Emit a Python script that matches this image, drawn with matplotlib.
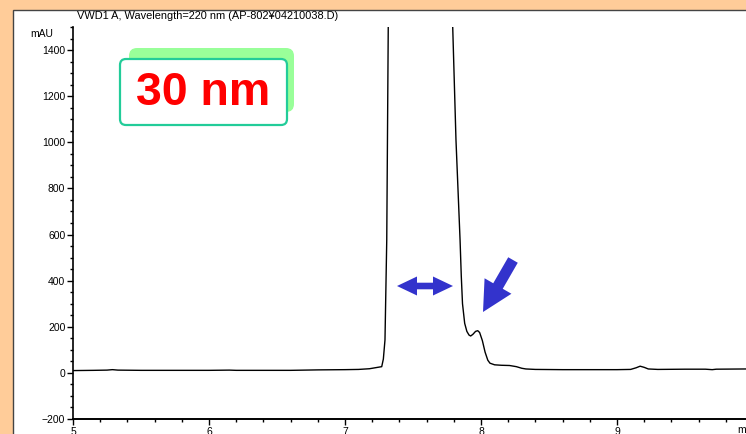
import matplotlib
matplotlib.use("Agg")
import matplotlib.pyplot as plt
from matplotlib.patches import Rectangle, FancyBboxPatch, FancyArrow, Polygon
from matplotlib.ticker import MultipleLocator

# VWD1 A trace, 220 nm (time in min, absorbance in mAU)
time_min = [5.00, 5.15, 5.25, 5.29, 5.33, 5.50, 6.00, 6.15, 6.20, 6.60, 6.80,
            7.00, 7.10, 7.18, 7.22, 7.25, 7.270, 7.282, 7.294, 7.307, 7.318,
            7.33, 7.40, 7.50, 7.60, 7.70, 7.76, 7.792, 7.816, 7.846, 7.855,
            7.864, 7.880, 7.896, 7.912, 7.924, 7.940, 7.960, 7.976, 7.990,
            8.010, 8.030, 8.050, 8.066, 8.10, 8.15, 8.21, 8.26, 8.30, 8.33,
            8.40, 8.60, 8.80, 9.00, 9.10, 9.14, 9.17, 9.20, 9.23, 9.30, 9.50,
            9.65, 9.70, 9.73, 9.95]
mau = [10, 11, 12, 14, 12, 11, 11, 12, 11, 11, 13,
       14, 15, 18, 22, 25, 27, 60, 143, 577, 1500,
       2400, 3300, 3600, 3300, 2500, 1900, 1500, 1010, 577, 420,
       300, 215, 180, 164, 160, 167, 180, 183, 175,
       140, 90, 55, 42, 35, 33, 32, 27, 20, 17,
       15, 14, 14, 14, 15, 22, 29, 24, 17, 15, 16,
       16, 14, 16, 17]

x_ticks = [5, 6, 7, 8, 9]
y_ticks = [-200, 0, 200, 400, 600, 800, 1000, 1200, 1400]
title = "VWD1 A, Wavelength=220 nm (AP-802¥04210038.D)"
badge = "30 nm"

W, H = 746, 434
PEACH = "#FFCC99"
BLUE = "#3333CC"

plt.rcParams["font.family"] = ["Liberation Sans", "DejaVu Sans"]

fig = plt.figure(figsize=(W / 100, H / 100), dpi=100, facecolor=PEACH)

# white report panel, kept behind everything
fig.patches.append(Rectangle((13 / W, -0.1), 1.2, 1 - 10 / H + 0.1,
                             transform=fig.transFigure, facecolor="white",
                             edgecolor="#444444", linewidth=1.0, zorder=-5))

ax = fig.add_axes([73 / W, 15 / H, (W - 73) / W, (419 - 27) / H])
ax.set_facecolor("none")
ax.plot(time_min, mau, color="black", linewidth=1.0, clip_on=True)
ax.set_xlim(5, 5 + (W - 73) / 136)
ax.set_ylim(-200, 1500)

for s in ("top", "right"):
    ax.spines[s].set_visible(False)
ax.spines["left"].set_linewidth(1.2)
ax.spines["bottom"].set_linewidth(1.4)

ax.set_xticks(x_ticks)
ax.set_yticks(y_ticks)
ax.xaxis.set_minor_locator(MultipleLocator(0.2))
ax.yaxis.set_minor_locator(MultipleLocator(50))
ax.tick_params(axis="both", which="major", direction="out", length=4.5,
               width=1.0, labelsize=7.5, pad=1)
ax.tick_params(axis="both", which="minor", direction="out", length=2.5,
               width=1.0)

ax.annotate("min", xy=(9.882, -200), xytext=(0, -4.3),
            textcoords="offset points", ha="left", va="top", fontsize=7.5,
            annotation_clip=False)

fig.text(53 / W, 1 - 34 / H, "mAU", ha="right", va="center", fontsize=7.5)
fig.text(208 / W, 1 - 16 / H, title, ha="center", va="center", fontsize=7.9)

# overlay in pixel units for the callouts
ov = fig.add_axes([0, 0, 1, 1])
ov.set_xlim(0, W)
ov.set_ylim(H, 0)
ov.axis("off")
ov.set_facecolor("none")

ov.add_patch(FancyBboxPatch((129, 48), 165, 64,
                            boxstyle="round,pad=0,rounding_size=8",
                            facecolor="#99FF99", edgecolor="none"))
ov.add_patch(FancyBboxPatch((120, 59), 167, 66,
                            boxstyle="round,pad=0,rounding_size=6",
                            facecolor="white", edgecolor="#22CC99",
                            linewidth=1.6))
ov.text(203, 93, badge, ha="center", va="center", color="#FF0000",
        fontsize=33.5, fontweight="bold")

# double-headed arrow across the peak width
cy, xl, xr, hl, hw, sw = 286, 397, 453, 20, 9.5, 3.3
ov.add_patch(Polygon([(xl, cy), (xl + hl, cy - hw), (xl + hl, cy - sw),
                      (xr - hl, cy - sw), (xr - hl, cy - hw), (xr, cy),
                      (xr - hl, cy + hw), (xr - hl, cy + sw),
                      (xl + hl, cy + sw), (xl + hl, cy + hw)],
                     closed=True, facecolor=BLUE, edgecolor="none"))

# arrow pointing at the shoulder
ov.add_patch(FancyArrow(513, 260, 483 - 513, 312 - 260, width=11,
                        head_width=31, head_length=30,
                        length_includes_head=True,
                        facecolor=BLUE, edgecolor="none"))

fig.savefig("out.png", dpi=100, facecolor=PEACH)
